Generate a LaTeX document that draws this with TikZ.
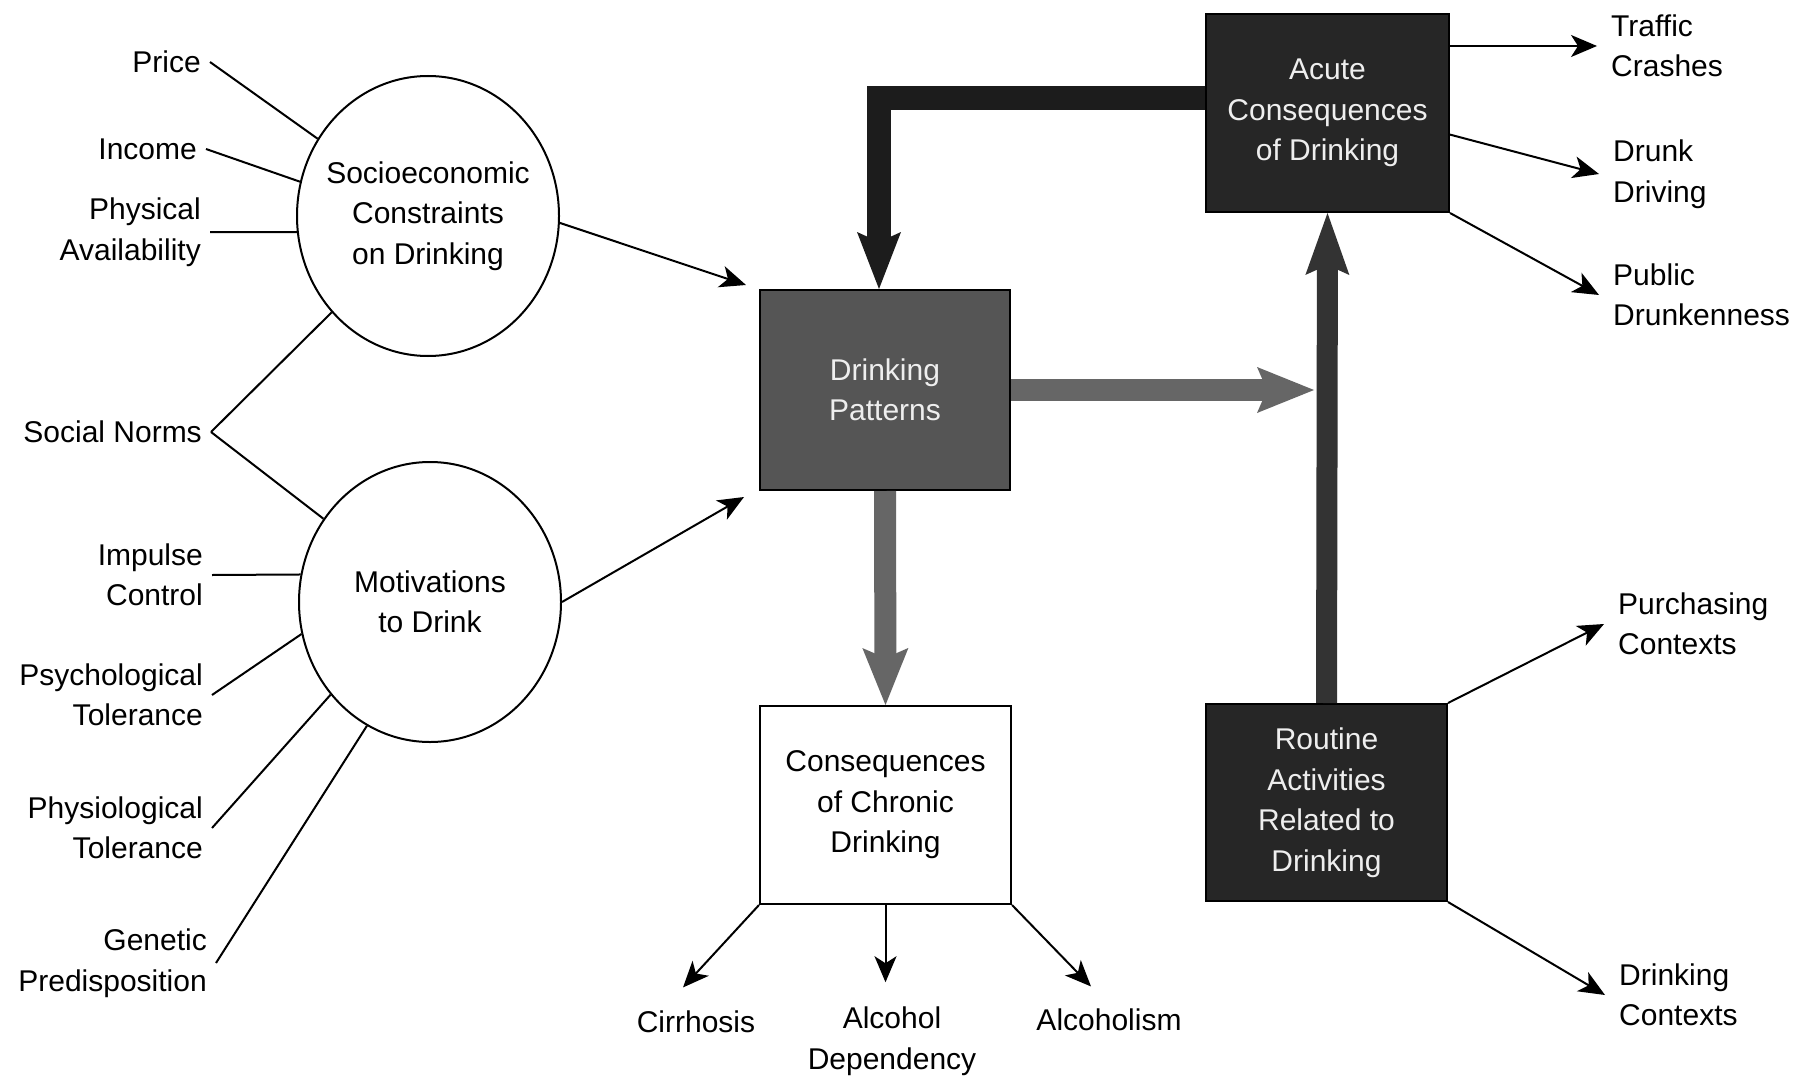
\documentclass[tikz,border=0pt]{standalone}
\usepackage{fontspec}
\setmainfont{Liberation Sans}
\usetikzlibrary{arrows.meta,shapes.geometric}
\definecolor{dpgray}{HTML}{555555}
\definecolor{arrgray}{HTML}{666666}
\definecolor{darkbox}{HTML}{262626}
\definecolor{fbblack}{HTML}{1C1C1C}
\definecolor{upblack}{HTML}{333333}
\definecolor{txtlight}{HTML}{EEEEEE}
\begin{document}
\begin{tikzpicture}[x=1pt,y=-1pt,
  every node/.style={font=\fontsize{30}{40.5}\selectfont},
  lbll/.style={anchor=east,align=right,inner xsep=9pt,inner ysep=2pt},
  lblr/.style={anchor=west,align=left,inner xsep=14pt,inner ysep=2pt},
  oval/.style={ellipse,draw,line width=2pt,minimum width=262pt,minimum height=280pt,inner sep=0pt,fill=white},
  box/.style={rectangle,draw=black,line width=2pt,align=center,inner sep=0pt},
  thinline/.style={line width=2pt},
  thinarr/.style={line width=2pt,-{Stealth[length=26pt,width=22pt,inset=7pt]}},
  fatgray/.style={line width=22pt,draw=arrgray,-{Stealth[length=57pt,width=46pt,inset=10pt,line width=0pt]}},
  fatblack/.style={line width=24pt,draw=fbblack,-{Stealth[length=57pt,width=44pt,inset=10pt,line width=0pt]}},
  fatup/.style={line width=21pt,draw=upblack,-{Stealth[length=62pt,width=44pt,inset=10pt,line width=0pt]}}
]
\fill[white] (0,0) rectangle (1798,1078);
\useasboundingbox (0,0) rectangle (1798,1078);

% ellipses
\node[oval,label={[align=center]center:Socioeconomic\\Constraints\\on Drinking}] (s1) at (428,216) {};
\node[oval,label={[align=center]center:Motivations\\to Drink}] (s2) at (430,602) {};

% boxes
\node[box,fill=dpgray,text=txtlight,minimum width=250pt,minimum height=200pt] (dp) at (885,390) {Drinking\\Patterns};
\node[box,fill=white,minimum width=251pt,minimum height=198pt] (chr) at (885.5,805) {Consequences\\of Chronic\\Drinking};
\node[box,fill=darkbox,text=txtlight,minimum width=243pt,minimum height=198pt] (acute) at (1327.5,113) {Acute\\Consequences\\of Drinking};
\node[box,fill=darkbox,text=txtlight,minimum width=241pt,minimum height=197pt] (rout) at (1326.5,802.5) {Routine\\Activities\\Related to\\Drinking};

% left labels
\node[lbll] (price) at (210,62) {Price};
\node[lbll] (income) at (206,149) {Income};
\node[lbll] (phys) at (210,232) {Physical\\Availability};
\node[lbll] (soc) at (211,432) {Social Norms};
\node[lbll] (imp) at (212,575) {Impulse\\Control};
\node[lbll] (psy) at (212,695) {Psychological\\Tolerance};
\node[lbll] (phy) at (212,828) {Physiological\\Tolerance};
\node[lbll] (gen) at (216,963) {Genetic\\Predisposition};

% right labels
\node[lblr] (traffic) at (1597,46) {Traffic\\Crashes};
\node[lblr] (drunk) at (1599,174) {Drunk\\Driving};
\node[lblr] (public) at (1599,295) {Public\\Drunkenness};
\node[lblr] (purch) at (1604,624) {Purchasing\\Contexts};
\node[lblr] (dctx) at (1605,995) {Drinking\\Contexts};

% bottom labels
\node (cirr) at (696,1022) {Cirrhosis};
\node[align=center] (dep) at (892,1041) {Alcohol\\Dependency};
\node (alcm) at (1109,1020) {Alcoholism};

% lines into ellipses
\draw[thinline] (price.east) -- (s1.145);
\draw[thinline] (income.east) -- (s1.165);
\draw[thinline] (phys.east) -- (s1.187);
\draw[thinline] (soc.east) -- (s1.225);
\draw[thinline] (soc.east) -- (s2.142);
\draw[thinline] (imp.east) -- (s2.168);
\draw[thinline] (psy.east) -- (s2.194);
\draw[thinline] (phy.east) -- (s2.223);
\draw[thinline] (gen.east) -- (s2.243);

% thin arrows
\draw[thinarr] (s1.357) -- ([shift={(-13pt,4pt)}]dp.north west);
\draw[thinarr] (s2.east) -- ([shift={(-15pt,-6pt)}]dp.south west);
\draw[thinarr] (chr.south west) -- ([shift={(-13pt,20pt)}]cirr.north);
\draw[thinarr] (chr.south) -- ([yshift=21pt]dep.north -| chr.south);
\draw[thinarr] (chr.south east) -- ([shift={(-18pt,19pt)}]alcm.north);
\draw[thinarr] (acute.east |- traffic.west) -- (traffic.west);
\draw[thinarr] (acute.-10) -- (drunk.west);
\draw[thinarr] (acute.south east) -- (public.west);
\draw[thinarr] (rout.north east) -- (purch.west);
\draw[thinarr] (rout.south east) -- (dctx.west);

% thick arrows
\coordinate (fb) at (879,98);
\coordinate (gt) at (1314,390);
\draw[fatblack] (acute.west |- fb) -| (dp.north -| fb);
\draw[fatgray] (dp.east) -- (gt);
\draw[fatgray] (dp.south) -- (chr.north);
\draw[fatup] (rout.north) -- (acute.south);
\end{tikzpicture}
\end{document}
